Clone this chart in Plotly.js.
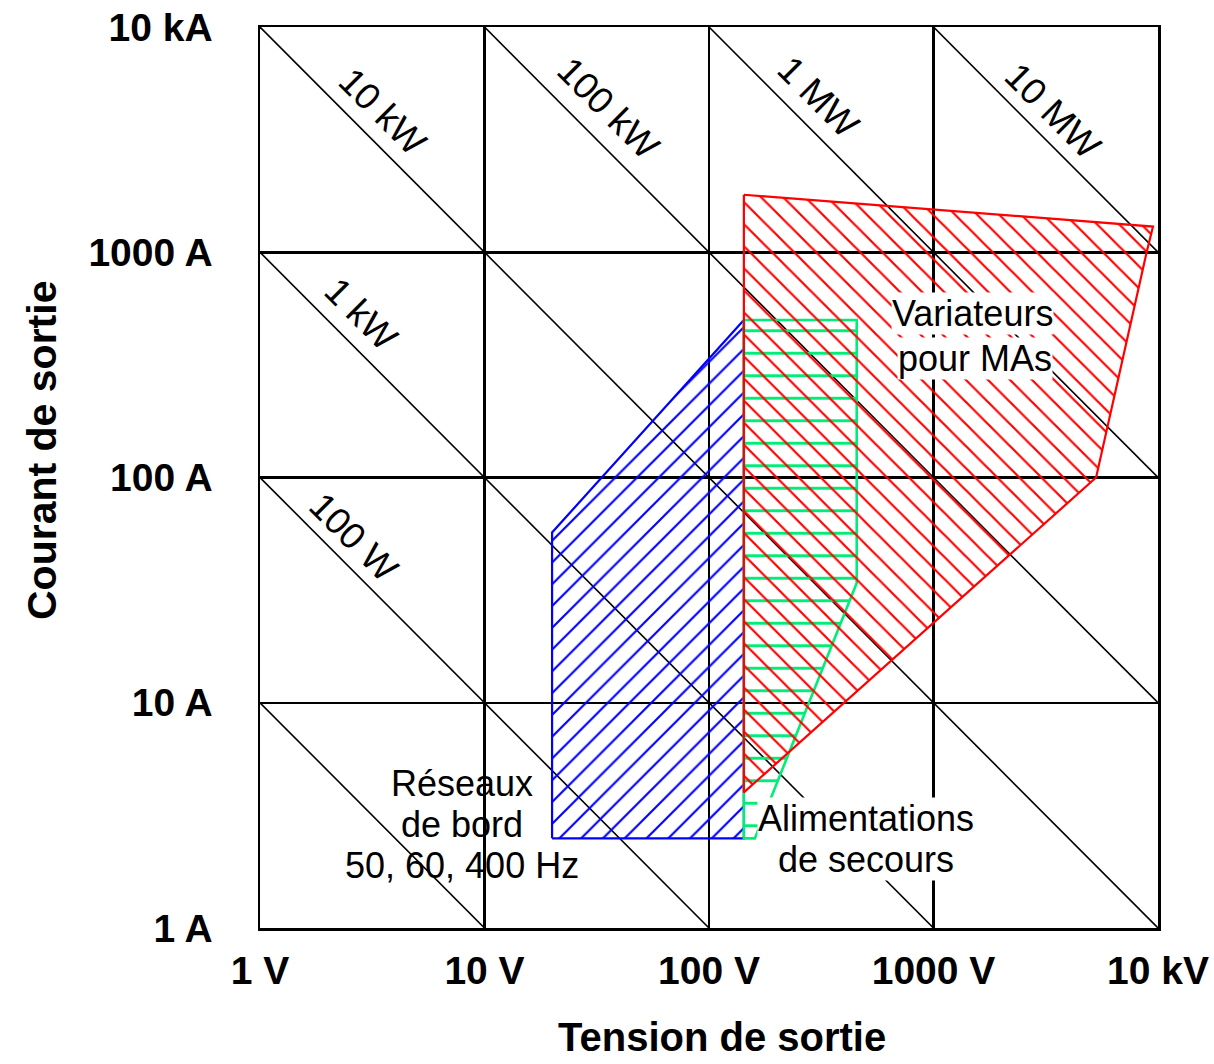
<!DOCTYPE html>
<html>
<head>
<meta charset="utf-8">
<script src="https://cdn.plot.ly/plotly-3.0.1.min.js"></script>
<style>html,body{margin:0;padding:0;background:#fff;}#chart{width:1214px;height:1064px;}</style>
</head>
<body>
<div id="chart"></div>
<script>
// ---- data ----
const xTickVals = [1, 10, 100, 1000, 10000];
const xTickText = ['1 V', '10 V', '100 V', '1000 V', '10 kV'];
const yTickVals = [1, 10, 100, 1000, 10000];
const yTickText = ['1 A', '10 A', '100 A', '1000 A', '10 kA'];
const xTitle = 'Tension de sortie';
const yTitle = 'Courant de sortie';

// constant-power lines (W)
const powers = [10, 100, 1e3, 1e4, 1e5, 1e6, 1e7];
const powerLabelText = ['100 W', '1 kW', '10 kW', '100 kW', '1 MW', '10 MW'];
const powerLabelValue = [100, 1e3, 1e4, 1e5, 1e6, 1e7];

// "Réseaux de bord" region (V, A)
const reseauxV = [20, 143, 143, 20, 20];
const reseauxI = [2.5, 2.5, 500, 57, 2.5];
// "Alimentations de secours" region
const alimV = [143, 455, 455, 160, 143, 143];
const alimI = [500, 500, 34, 2.5, 2.5, 500];
// "Variateurs pour MAs" region
const variaV = [143, 9500, 8900, 5300, 143, 143];
const variaI = [1800, 1300, 1000, 100, 4, 1800];

// ---- build diagonal power lines from the data ----
const Vmin = 1, Vmax = 1e4, Imin = 1, Imax = 1e4;
const diagX = [], diagY = [];
powers.forEach(P => {
  const v0 = Math.max(Vmin, P / Imax);
  const v1 = Math.min(Vmax, P / Imin);
  diagX.push(v0, v1, null);
  diagY.push(P / v0, P / v1, null);
});

const traces = [
  {x: diagX, y: diagY, type: 'scatter', mode: 'lines',
   line: {color: '#000', width: 1.6}, hoverinfo: 'skip', showlegend: false},
  {x: reseauxV, y: reseauxI, type: 'scatter', mode: 'lines', fill: 'toself',
   fillcolor: 'rgba(0,0,0,0)', line: {color: '#0000FF', width: 2.2},
   fillpattern: {shape: '/', size: 15.4, solidity: 0.14, fgcolor: '#0000FF', bgcolor: 'rgba(0,0,0,0)'},
   showlegend: false, hoverinfo: 'skip'},
  {x: alimV, y: alimI, type: 'scatter', mode: 'lines', fill: 'toself',
   fillcolor: 'rgba(0,0,0,0)', line: {color: '#00EE77', width: 2.6},
   fillpattern: {shape: '-', size: 22.5, solidity: 0.13, fgcolor: '#00EE77', bgcolor: 'rgba(0,0,0,0)'},
   showlegend: false, hoverinfo: 'skip'},
  {x: variaV, y: variaI, type: 'scatter', mode: 'lines', fill: 'toself',
   fillcolor: 'rgba(0,0,0,0)', line: {color: '#FF0000', width: 2.2},
   fillpattern: {shape: '\\', size: 15.6, solidity: 0.14, fgcolor: '#FF0000', bgcolor: 'rgba(0,0,0,0)'},
   showlegend: false, hoverinfo: 'skip'}
];

// ---- annotations ----
const annFont = {family: 'Liberation Sans, Arial, sans-serif', size: 36, color: '#000'};
// placement of power labels: [decade column, fraction along cell, perpendicular offset px]
const powerLabelPlace = [[0, 0.342, 17], [0, 0.363, 20], [0, 0.46, 19], [1, 0.457, 21], [2, 0.40, 20], [3, 0.45, 17.5]];
const annotations = [];
powerLabelText.forEach((t, k) => {
  const [col, f, off] = powerLabelPlace[k];
  const lx = col + f;
  const ly = Math.log10(powerLabelValue[k]) - lx;
  annotations.push({x: lx, y: ly, xref: 'x', yref: 'y', text: t, showarrow: false,
    textangle: 45, font: {...annFont, size: 37}, xshift: off, yshift: off});
});
const regionLabels = [
  {text: 'Variateurs', x: 3.1715, y: 2.7259, bg: '#fff'},
  {text: 'pour MAs', x: 3.1849, y: 2.5305, bg: '#fff'},
  {text: 'Alimentations', x: 2.6993, y: 0.4883, bg: '#fff'},
  {text: 'de secours', x: 2.6993, y: 0.3063, bg: '#fff'},
  {text: 'Réseaux', x: 0.8998, y: 0.6437, bg: 'rgba(0,0,0,0)'},
  {text: 'de bord', x: 0.8998, y: 0.4617, bg: 'rgba(0,0,0,0)'},
  {text: '50, 60, 400 Hz', x: 0.8998, y: 0.2797, bg: 'rgba(0,0,0,0)'}
];
regionLabels.forEach(r => annotations.push({x: r.x, y: r.y, xref: 'x', yref: 'y', text: r.text,
  showarrow: false, font: annFont, bgcolor: r.bg, borderpad: 0}));

const tickFont = {family: 'Liberation Sans, Arial, sans-serif', size: 39, color: '#000', weight: 'bold'};
const titleFont = {family: 'Liberation Sans, Arial, sans-serif', size: 40, color: '#000', weight: 'bold'};

// axis titles placed as annotations to match the original position
annotations.push({xref: 'paper', yref: 'paper', x: 0.5145, y: -0.121, text: xTitle,
  xanchor: 'center', yanchor: 'middle', showarrow: false, font: titleFont});
annotations.push({xref: 'paper', yref: 'paper', x: -0.2428, y: 0.5305, text: yTitle,
  xanchor: 'center', yanchor: 'middle', showarrow: false, font: {...titleFont, size: 41}, textangle: -90});

const layout = {
  width: 1214, height: 1064,
  margin: {l: 260, r: 56, t: 27, b: 136},
  paper_bgcolor: '#fff', plot_bgcolor: '#fff',
  showlegend: false,
  xaxis: {type: 'log', range: [0, 4], tickvals: xTickVals, ticktext: xTickText,
    tickfont: tickFont, ticks: '', showgrid: true, gridcolor: '#000', gridwidth: 2.5,
    showline: true, mirror: true, linecolor: '#000', linewidth: 2.5,
    ticklabelstandoff: 7, automargin: false},
  yaxis: {type: 'log', range: [0, 4], tickvals: yTickVals, ticktext: yTickText,
    tickfont: tickFont, ticks: '', showgrid: true, gridcolor: '#000', gridwidth: 2.5,
    showline: true, mirror: true, linecolor: '#000', linewidth: 2.5,
    ticklabelstandoff: 37, automargin: false},
  annotations: annotations
};

Plotly.newPlot('chart', traces, layout, {staticPlot: true, displayModeBar: false});
</script>
</body>
</html>
